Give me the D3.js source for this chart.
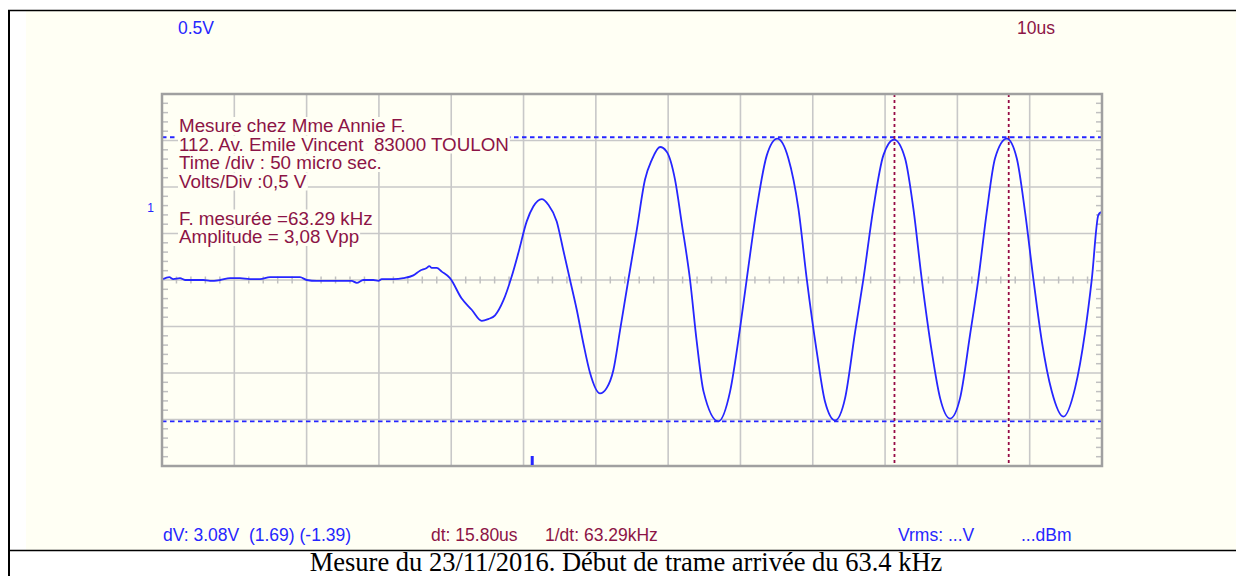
<!DOCTYPE html>
<html>
<head>
<meta charset="utf-8">
<script src="https://cdn.jsdelivr.net/npm/d3@7"></script>
<style>
  body { margin: 0; background: #fff; }
  svg { display: block; font-family: "Liberation Sans", Arial, sans-serif; }
</style>
</head>
<body>
<svg id="scope" width="1236" height="576"></svg>
<script>
// samples: [time (us), volts]
const trace = [
  [0.14, 0.01], [1.01, 0.03], [1.56, 0.01], [2.49, 0.02], [3.18, 0.00], [4.33, 0.00],
  [5.71, 0.00], [6.64, -0.01], [8.02, 0.00], [9.41, 0.02], [10.79, 0.02], [12.17, 0.01],
  [13.55, 0.01], [14.94, 0.03], [16.78, 0.03], [19.09, 0.03], [20.01, 0.00], [21.40, -0.01],
  [23.69, -0.01], [26.24, -0.01], [26.93, -0.03], [27.84, 0.00], [29.22, 0.00], [29.92, -0.01],
  [30.39, 0.01], [31.99, 0.01], [33.37, 0.02], [34.76, 0.05], [35.68, 0.10], [36.61, 0.13],
  [36.97, 0.15], [37.30, 0.13], [37.99, 0.13], [38.69, 0.09], [39.83, 0.02], [41.45, -0.20],
  [42.83, -0.32], [44.22, -0.44], [45.13, -0.42], [46.06, -0.38], [47.21, -0.22], [48.37, 0.04],
  [49.28, 0.29], [50.44, 0.63], [51.35, 0.79], [52.52, 0.87], [53.43, 0.81], [54.59, 0.63],
  [55.50, 0.32], [56.43, 0.00], [57.36, -0.32], [58.27, -0.68], [59.20, -1.00], [60.58, -1.22],
  [61.51, -1.16], [62.42, -0.97], [63.35, -0.54], [64.49, 0.00], [65.66, 0.54], [66.80, 1.08],
  [67.73, 1.29], [68.88, 1.43], [69.80, 1.38], [70.95, 1.08], [71.88, 0.61], [73.03, 0.00],
  [73.95, -0.66], [74.90, -1.20], [76.94, -1.52], [78.56, -1.20], [79.94, -0.52], [80.87, 0.01],
  [82.25, 0.77], [83.64, 1.34], [85.10, 1.52], [86.62, 1.31], [88.01, 0.77], [89.17, 0.01],
  [90.55, -0.77], [91.70, -1.31], [93.08, -1.51], [94.47, -1.27], [95.85, -0.56], [97.00, 0.01],
  [98.38, 0.77], [99.76, 1.34], [101.24, 1.51], [102.76, 1.31], [103.91, 0.77], [105.07, 0.01],
  [106.46, -0.77], [107.61, -1.27], [108.99, -1.49], [110.37, -1.27], [111.75, -0.59], [112.90, 0.01],
  [114.06, 0.73], [115.21, 1.31], [116.83, 1.52], [118.21, 1.31], [119.36, 0.73], [120.51, 0.01],
  [121.68, -0.66], [123.06, -1.20], [124.66, -1.47], [126.28, -1.16], [127.66, -0.56], [128.59, 0.01],
  [129.50, 0.70], [129.87, 0.73]
];

const cursorTimes = [101.3, 117.1];     // us
const cursorVolts = [1.535, -1.52];     // V
const triggerTime = 51.2;               // us
const channelMark = 0.77;               // V

const voltsPerDiv = "0.5V";
const timePerDiv = "10us";
const noteLines = [
  "Mesure chez Mme Annie F.",
  "112. Av. Emile Vincent  83000 TOULON",
  "Time /div : 50 micro sec.",
  "Volts/Div :0,5 V",
  "",
  "F. mesurée =63.29 kHz",
  "Amplitude = 3,08 Vpp"
];
const readouts = ["dV: 3.08V  (1.69) (-1.39)", "dt: 15.80us", "1/dt: 63.29kHz", "Vrms: ...V", "...dBm"];
const caption = "Mesure du 23/11/2016. Début de trame arrivée du 63.4 kHz";

const blue = "#2626ff", maroon = "#8c1446", cream = "#fffff4";

const svg = d3.select("#scope");

const x = d3.scaleLinear().domain([0, 130]).range([162, 1102]);
const y = d3.scaleLinear().domain([-2, 2]).range([466, 94]);

// page frame
svg.append("rect").attr("x", 26).attr("y", 11).attr("width", 1210).attr("height", 539).attr("fill", cream);
svg.append("line").attr("x1", 8).attr("x2", 1236).attr("y1", 10.5).attr("y2", 10.5).attr("stroke", "#000").attr("stroke-width", 1.5);
svg.append("line").attr("x1", 9).attr("x2", 9).attr("y1", 10).attr("y2", 576).attr("stroke", "#000").attr("stroke-width", 2);
svg.append("line").attr("x1", 8).attr("x2", 1236).attr("y1", 550.5).attr("y2", 550.5).attr("stroke", "#000").attr("stroke-width", 1.5);

const plot = svg.append("g");

// grid
plot.selectAll(".vgrid")
  .data(d3.range(10, 130, 10))
  .join("line")
  .attr("x1", d => x(d)).attr("x2", d => x(d))
  .attr("y1", y(2)).attr("y2", y(-2))
  .attr("stroke", "#c8c8c8").attr("stroke-width", 1.6);

plot.selectAll(".hgrid")
  .data(d3.range(-1.5, 2, 0.5))
  .join("line")
  .attr("x1", x(0)).attr("x2", x(130))
  .attr("y1", d => y(d)).attr("y2", d => y(d))
  .attr("stroke", "#c8c8c8").attr("stroke-width", 1.6);

// minor ticks on centre line and side borders
plot.append("g").selectAll("line")
  .data(d3.range(2, 130, 2).filter(d => d % 10 !== 0))
  .join("line")
  .attr("x1", d => x(d)).attr("x2", d => x(d))
  .attr("y1", y(0) - 3.5).attr("y2", y(0) + 3.5)
  .attr("stroke", "#c0c0c0").attr("stroke-width", 1.5);

const sideTicks = d3.range(-19, 20).map(d => d / 10).filter(d => Math.round(d * 10) % 5 !== 0);
plot.append("g").selectAll("line")
  .data(sideTicks)
  .join("line")
  .attr("x1", x(0)).attr("x2", x(0) + 6)
  .attr("y1", d => y(d)).attr("y2", d => y(d))
  .attr("stroke", "#c0c0c0").attr("stroke-width", 1.5);
plot.append("g").selectAll("line")
  .data(sideTicks)
  .join("line")
  .attr("x1", x(130) - 6).attr("x2", x(130))
  .attr("y1", d => y(d)).attr("y2", d => y(d))
  .attr("stroke", "#c0c0c0").attr("stroke-width", 1.5);

// cursors
plot.selectAll(".vcur")
  .data(cursorVolts)
  .join("line")
  .attr("x1", x(0)).attr("x2", x(130))
  .attr("y1", d => y(d)).attr("y2", d => y(d))
  .attr("stroke", blue).attr("stroke-width", 1.8)
  .attr("stroke-dasharray", "4.5 3.5");

plot.selectAll(".tcur")
  .data(cursorTimes)
  .join("line")
  .attr("x1", d => x(d)).attr("x2", d => x(d))
  .attr("y1", y(2)).attr("y2", y(-2))
  .attr("stroke", "#960a46").attr("stroke-width", 1.8)
  .attr("stroke-dasharray", "3 3");

// waveform
svg.append("clipPath").attr("id", "screen")
  .append("rect").attr("x", x(0)).attr("y", y(2)).attr("width", x(130) - x(0)).attr("height", y(-2) - y(2));

const line = d3.line()
  .x(d => x(d[0]))
  .y(d => y(d[1]))
  .curve(d3.curveMonotoneX);

plot.append("path")
  .datum(trace)
  .attr("clip-path", "url(#screen)")
  .attr("d", line)
  .attr("fill", "none")
  .attr("stroke", blue)
  .attr("stroke-width", 1.8);

// notes over the screen, each on its own cream patch
const notes = plot.append("g")
  .attr("font-size", 18.8)
  .attr("fill", maroon);
noteLines.forEach((t, i) => {
  if (!t) return;
  const g = notes.append("g");
  const txt = g.append("text")
    .attr("x", 179)
    .attr("y", 132 + i * 18.5)
    .style("white-space", "pre")
    .text(t);
  const bb = txt.node().getBBox();
  g.insert("rect", "text")
    .attr("x", bb.x - 1).attr("y", bb.y + 2)
    .attr("width", bb.width + 2).attr("height", bb.height - 3)
    .attr("fill", cream);
});

// border
plot.append("rect")
  .attr("x", x(0)).attr("y", y(2))
  .attr("width", x(130) - x(0)).attr("height", y(-2) - y(2))
  .attr("fill", "none")
  .attr("stroke", "#a0a0a0").attr("stroke-width", 2.5);

// trigger marker
plot.append("rect")
  .attr("x", x(triggerTime) - 1.5).attr("y", y(-2) - 10)
  .attr("width", 3).attr("height", 9)
  .attr("fill", blue);

// channel marker
svg.append("text")
  .attr("x", 154).attr("y", y(channelMark) + 4)
  .attr("text-anchor", "end")
  .attr("font-size", 12)
  .attr("fill", blue)
  .text("1");

// header labels
svg.append("text").attr("x", 178).attr("y", 34).attr("font-size", 17.5).attr("fill", blue).text(voltsPerDiv);
svg.append("text").attr("x", 1017).attr("y", 34).attr("font-size", 17.5).attr("fill", maroon).text(timePerDiv);

// bottom readouts
const readX = [163, 431, 545, 898, 1021];
const readC = [blue, maroon, maroon, blue, blue];
svg.append("g").attr("font-size", 17.5)
  .selectAll("text")
  .data(readouts)
  .join("text")
  .attr("x", (d, i) => readX[i])
  .attr("y", 541)
  .attr("fill", (d, i) => readC[i])
  .style("white-space", "pre")
  .text(d => d);

// caption
svg.append("text")
  .attr("x", 626).attr("y", 571)
  .attr("text-anchor", "middle")
  .attr("font-family", "'Liberation Serif', 'Times New Roman', serif")
  .attr("font-size", 26.5)
  .attr("fill", "#000")
  .text(caption);
</script>
</body>
</html>
